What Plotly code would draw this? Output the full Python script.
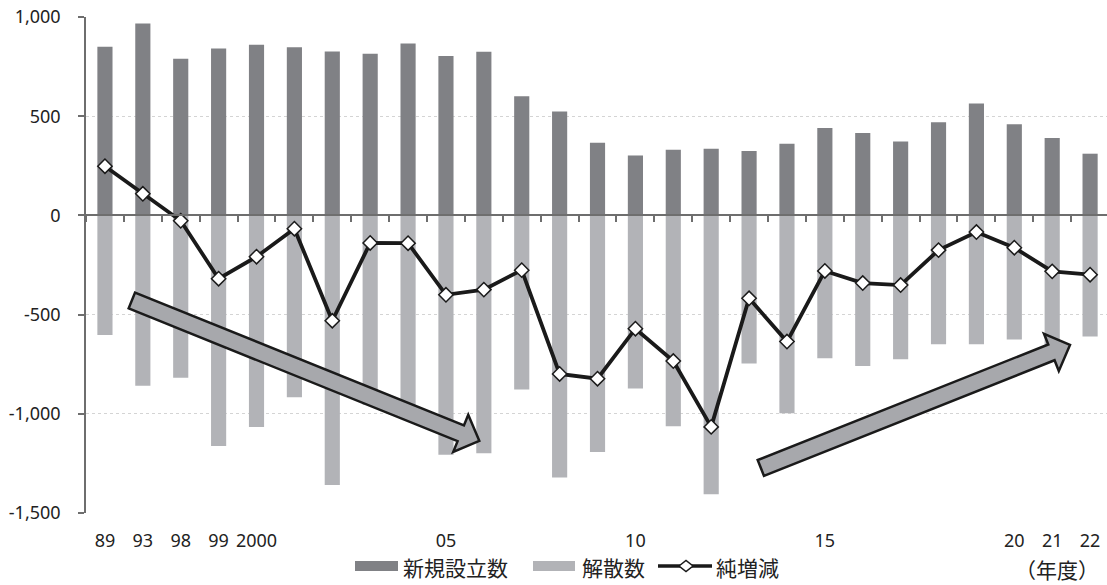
import numpy as np
import plotly.graph_objects as go

# Fiscal years (category keys) and their axis labels
years = ["1989", "1993", "1998", "1999", "2000", "2001", "2002", "2003", "2004",
         "2005", "2006", "2007", "2008", "2009", "2010", "2011", "2012", "2013",
         "2014", "2015", "2016", "2017", "2018", "2019", "2020", "2021", "2022"]
year_labels = ["89", "93", "98", "99", "2000", "", "", "", "", "05", "", "", "", "",
               "10", "", "", "", "", "15", "", "", "", "", "20", "21", "22"]

# Newly established, dissolved and net change per fiscal year
new_est = [850, 967, 789, 841, 860, 848, 826, 815, 866, 803, 825, 601, 524, 366,
           302, 331, 336, 324, 361, 440, 415, 373, 470, 564, 460, 390, 311]
dissolved = [-603, -858, -818, -1162, -1066, -917, -1359, -954, -1006, -1207, -1199,
             -878, -1321, -1192, -873, -1063, -1406, -747, -997, -720, -759, -725,
             -650, -650, -625, -672, -611]
net_change = [248, 109, -27, -319, -208, -67, -531, -139, -140, -400, -374, -276,
              -799, -823, -571, -734, -1066, -418, -636, -280, -341, -351, -175,
              -84, -163, -282, -299]

series_names = ["新規設立数", "解散数", "純増減"]

y_tickvals = [-1500, -1000, -500, 0, 500, 1000]
y_ticktext = ["-1,500", "-1,000", "-500", "0", "500", "1,000"]

# Trend arrows: (tail category index, tail value) -> (tip category index, tip value)
trend_arrows = [((0.71, -429), (9.88, -1136)),
                ((17.31, -1273), (25.47, -653))]

W, H = 1107, 585
ML, MR, MT, MB = 86, 0, 17, 72
PW, PH = W - ML - MR, H - MT - MB
STEP = 37.89
x_range = [-0.5, -0.5 + PW / STEP]
y_range = [-1500, 1000]

FONT = "Noto Sans, Noto Sans CJK JP, sans-serif"
JP_FONT = "Noto Sans CJK JP, sans-serif"
DARK = "#808185"
LIGHT = "#b2b3b7"
INK = "#1a1a1a"


def to_px(x, y):
    px = ML + (x - x_range[0]) / (x_range[1] - x_range[0]) * PW
    py = MT + (y_range[1] - y) / (y_range[1] - y_range[0]) * PH
    return np.array([px, py])


def px_to_paper(px, py):
    return (px - ML) / PW, (MT + PH - py) / PH


def polygon(points):
    coords = [px_to_paper(*p) for p in points]
    return "M" + "L".join(f"{x:.5f},{y:.5f}" for x, y in coords) + "Z"


def arrow_path(tail, tip, shaft_w=17, head_w=40, head_len=20):
    a, b = to_px(*tail), to_px(*tip)
    u = (b - a) / np.linalg.norm(b - a)
    n = np.array([-u[1], u[0]])
    neck = b - u * head_len
    pts = [a + n * shaft_w / 2, neck + n * shaft_w / 2, neck + n * head_w / 2, b,
           neck - n * head_w / 2, neck - n * shaft_w / 2, a - n * shaft_w / 2]
    return polygon(pts)


fig = go.Figure()
fig.add_trace(go.Bar(x=years, y=new_est, name=series_names[0], marker_color=DARK,
                     width=0.4, marker_line_width=0, showlegend=False))
fig.add_trace(go.Bar(x=years, y=dissolved, name=series_names[1], marker_color=LIGHT,
                     width=0.4, marker_line_width=0, showlegend=False))
fig.add_trace(go.Scatter(x=years, y=net_change, name=series_names[2],
                         mode="lines+markers", xaxis="x2", showlegend=False,
                         line=dict(color=INK, width=3.8),
                         marker=dict(symbol="diamond", size=11, color="white",
                                     line=dict(color=INK, width=1.5))))

shapes = []
for tail, tip in trend_arrows:
    shapes.append(dict(type="path", xref="paper", yref="paper",
                       path=arrow_path(tail, tip), fillcolor="#a7a8ac",
                       line=dict(color=INK, width=2.5), layer="above"))

# Legend row below the plot: swatches and labels
LEG_Y = 566
annotations = []


def legend_rect(x0, x1, color):
    p0 = px_to_paper(x0, LEG_Y + 5)
    p1 = px_to_paper(x1, LEG_Y - 5)
    shapes.append(dict(type="rect", xref="paper", yref="paper", x0=p0[0], y0=p0[1],
                       x1=p1[0], y1=p1[1], fillcolor=color, line_width=0))


def legend_text(x, text):
    px, py = px_to_paper(x, LEG_Y + 1)
    annotations.append(dict(text=text, xref="paper", yref="paper", x=px, y=py,
                            xanchor="left", yanchor="middle", showarrow=False,
                            font=dict(family=JP_FONT, size=21, color="#222222")))


legend_rect(355, 398, DARK)
legend_text(401, series_names[0])
legend_rect(533, 575, LIGHT)
legend_text(580, series_names[1])
l0, l1 = px_to_paper(658, LEG_Y), px_to_paper(712, LEG_Y)
shapes.append(dict(type="line", xref="paper", yref="paper", x0=l0[0], y0=l0[1],
                   x1=l1[0], y1=l1[1], line=dict(color=INK, width=3.3)))
cx = 686
shapes.append(dict(type="path", xref="paper", yref="paper",
                   path=polygon([(cx - 7, LEG_Y), (cx, LEG_Y - 5.5),
                                 (cx + 7, LEG_Y), (cx, LEG_Y + 5.5)]),
                   fillcolor="white", line=dict(color=INK, width=1.5)))
legend_text(714, series_names[2])

yr_x, yr_y = px_to_paper(1057, 569)
annotations.append(dict(text="（年度）", xref="paper", yref="paper", x=yr_x, y=yr_y,
                        xanchor="center", yanchor="middle", showarrow=False,
                        font=dict(family=JP_FONT, size=21, color="#222222")))

fig.update_layout(
    width=W, height=H,
    margin=dict(l=ML, r=MR, t=MT, b=MB, pad=0),
    paper_bgcolor="white", plot_bgcolor="white",
    barmode="relative",
    font=dict(family=FONT, size=18, color="#222222"),
    showlegend=False,
    xaxis=dict(type="category", range=x_range, tickvals=years, ticktext=year_labels,
               ticks="", showline=False, showgrid=False, zeroline=False,
               ticklabelstandoff=15, tickfont=dict(size=18)),
    xaxis2=dict(type="category", overlaying="x", matches="x", anchor="free",
                position=(0 - y_range[0]) / (y_range[1] - y_range[0]), side="bottom",
                tickson="boundaries", ticks="outside", ticklen=6, tickwidth=1.5,
                tickcolor="#6e6e6e", showticklabels=False, showline=True,
                linecolor="#6e6e6e", linewidth=2, showgrid=False, zeroline=False,
                layer="above traces"),
    yaxis=dict(range=y_range, tickvals=y_tickvals, ticktext=y_ticktext,
               showline=True, linecolor="#6e6e6e", linewidth=1.5,
               ticks="outside", ticklen=6, tickwidth=1.5, tickcolor="#6e6e6e",
               showgrid=True, gridcolor="#d4d4d4", griddash="dot", gridwidth=1,
               zeroline=False, ticklabelstandoff=14, tickfont=dict(size=18)),
    shapes=shapes,
    annotations=annotations,
)

fig.write_html("out.html")
